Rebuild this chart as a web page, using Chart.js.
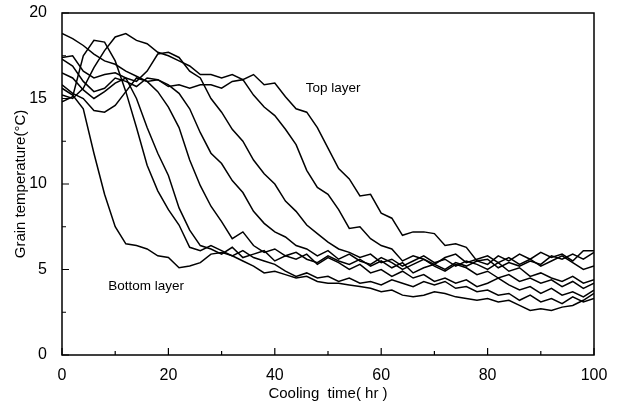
<!DOCTYPE html>
<html>
<head>
<meta charset="utf-8">
<script src="https://cdn.jsdelivr.net/npm/chart.js@4.4.1/dist/chart.umd.min.js"></script>
<style>
  html, body { margin: 0; padding: 0; background: #fff; }
  #wrap { width: 618px; height: 405px; }
</style>
</head>
<body>
<div id="wrap"><canvas id="grainChart" width="618" height="405"></canvas></div>
<script>
// cooling time (hr), every 2 hours
const hours = [0,2,4,6,8,10,12,14,16,18,20,22,24,26,28,30,32,34,36,38,40,42,44,46,48,50,
  52,54,56,58,60,62,64,66,68,70,72,74,76,78,80,82,84,86,88,90,92,94,96,98,100];

// grain temperature (C) per layer, bottom layer first
const layer1 = [15.6,15.2,14.4,11.8,9.4,7.5,6.5,6.4,6.2,5.8,5.7,5.1,5.2,5.4,5.9,6.0,5.8,5.5,5.2,4.8,4.9,4.7,4.5,4.6,4.3,4.2,
  4.2,4.1,4.0,3.9,3.7,3.8,3.5,3.4,3.5,3.7,3.6,3.4,3.3,3.2,3.3,3.1,3.2,2.9,2.6,2.7,2.6,2.8,2.9,3.2,3.6];
const layer2 = [14.8,15.1,17.5,18.4,18.3,17.2,15.4,13.3,11.1,9.6,8.5,7.6,6.3,6.1,6.4,6.1,5.8,6.1,5.7,5.5,5.3,4.9,4.6,4.8,4.5,4.6,
  4.3,4.5,4.2,4.3,4.1,4.4,4.2,4.0,4.3,4.1,4.3,3.9,4.0,3.7,3.8,3.5,3.6,3.2,3.5,3.1,3.3,3.0,3.4,3.1,3.3];
const layer3 = [16.5,16.2,15.5,15.0,15.4,15.9,16.2,15.0,13.3,11.8,10.5,8.6,7.3,6.4,6.2,5.9,6.3,5.7,5.9,6.1,5.5,5.8,5.6,5.9,5.3,5.7,
  5.4,5.0,5.3,4.8,5.0,4.6,4.9,4.5,4.7,4.3,4.5,4.2,4.4,4.0,4.2,4.5,4.1,3.8,4.0,3.6,3.9,3.5,3.7,3.4,3.8];
const layer4 = [15.8,15.3,15.0,14.3,14.2,14.6,15.4,16.2,16.0,15.4,14.5,13.3,11.4,9.9,8.7,7.8,6.8,7.2,6.4,6.0,6.2,5.8,6.0,5.6,5.4,5.8,
  5.5,5.3,5.6,5.2,5.5,5.1,5.4,4.8,5.1,5.3,5.0,5.4,5.2,5.5,5.6,5.1,5.4,5.2,5.5,5.3,5.8,5.6,5.9,5.6,6.0];
const layer5 = [17.3,16.9,16.0,15.4,15.6,16.2,16.0,15.7,16.2,16.1,15.8,15.3,14.4,13.0,11.8,11.2,10.2,9.5,8.4,7.7,7.2,6.9,6.4,6.2,5.8,6.1,
  5.6,5.9,5.5,5.3,5.7,5.4,5.0,5.3,5.6,5.2,4.9,5.3,5.1,4.7,4.9,4.5,4.7,4.3,4.5,4.2,4.4,4.0,4.3,3.9,4.2];
const layer6 = [17.4,17.5,16.6,16.2,16.4,16.5,16.2,16.0,16.6,17.6,17.7,17.4,16.6,16.2,15.0,14.2,13.2,12.5,11.4,10.6,10.0,9.0,8.4,7.6,7.1,6.6,
  6.2,6.0,5.7,5.9,5.4,5.6,5.2,5.5,5.8,5.4,5.6,5.2,5.5,5.3,5.0,5.4,4.9,5.1,4.6,4.8,4.5,4.3,4.6,4.2,4.4];
const layer7 = [18.8,18.5,18.1,17.6,17.2,17.0,16.6,16.3,16.0,16.1,15.7,15.8,15.6,15.8,15.8,15.6,16.0,16.1,15.2,14.5,14.0,13.2,12.3,10.8,9.8,9.4,
  8.5,7.4,7.5,6.8,6.4,6.2,5.5,5.8,5.6,5.3,5.7,5.9,5.4,5.6,5.8,5.4,5.7,5.3,5.6,6.0,5.7,5.9,5.5,6.1,6.1];
const layer8 = [15.2,15.0,15.6,16.8,17.8,18.6,18.8,18.4,18.2,17.7,17.5,17.2,16.9,16.4,16.4,16.2,16.4,16.1,16.4,15.8,15.9,15.1,14.4,14.2,13.3,12.1,
  10.9,10.3,9.3,9.4,8.3,8.0,7.0,7.2,7.2,7.1,6.4,6.5,6.3,5.5,5.3,5.8,5.5,5.9,5.6,5.2,5.5,5.8,5.4,5.0,5.2];

const layers = [layer1, layer2, layer3, layer4, layer5, layer6, layer7, layer8];

// axis ticks
const xMajor = [0, 20, 40, 60, 80, 100];
const xMinor = [10, 30, 50, 70, 90];
const yMajor = [0, 5, 10, 15, 20];
const yMinor = [2.5, 7.5, 12.5, 17.5];

// text notes placed in data units
const notes = [
    { text: 'Top layer', x: 45.8, y: 15.6 },
    { text: 'Bottom layer', x: 8.7, y: 4.0 }
];

const FONT = '"Liberation Sans", Arial, sans-serif';

// inward ticks, frame and notes
const framePlugin = {
    id: 'frame',
    afterDatasetsDraw(chart) {
        const { ctx, chartArea: a, scales: { x, y } } = chart;
        ctx.save();
        ctx.strokeStyle = '#000';
        ctx.lineWidth = 1.5;
        ctx.strokeRect(a.left, a.top, a.right - a.left, a.bottom - a.top);

        ctx.lineWidth = 1.2;
        ctx.beginPath();
        xMajor.forEach(v => {
            const px = x.getPixelForValue(v);
            ctx.moveTo(px, a.bottom); ctx.lineTo(px, a.bottom - 7);
        });
        xMinor.forEach(v => {
            const px = x.getPixelForValue(v);
            ctx.moveTo(px, a.bottom); ctx.lineTo(px, a.bottom - 4);
        });
        yMajor.forEach(v => {
            const py = y.getPixelForValue(v);
            ctx.moveTo(a.left, py); ctx.lineTo(a.left + 7, py);
        });
        yMinor.forEach(v => {
            const py = y.getPixelForValue(v);
            ctx.moveTo(a.left, py); ctx.lineTo(a.left + 4, py);
        });
        ctx.stroke();

        ctx.fillStyle = '#000';
        ctx.font = '13.5px ' + FONT;
        ctx.textAlign = 'left';
        ctx.textBaseline = 'middle';
        notes.forEach(n => ctx.fillText(n.text, x.getPixelForValue(n.x), y.getPixelForValue(n.y)));
        ctx.restore();
    }
};

const ctx = document.getElementById('grainChart').getContext('2d');
new Chart(ctx, {
    type: 'line',
    data: {
        labels: hours,
        datasets: layers.map((vals, i) => ({
            label: 'Layer ' + (i + 1),
            data: vals,
            borderColor: '#000',
            borderWidth: 1.5,
            pointRadius: 0,
            tension: 0,
            fill: false
        }))
    },
    options: {
        responsive: false,
        animation: false,
        devicePixelRatio: 1,
        layout: { padding: { top: 13, right: 24, left: 0, bottom: 0 } },
        plugins: {
            legend: { display: false },
            tooltip: { enabled: false }
        },
        scales: {
            x: {
                type: 'linear',
                min: 0,
                max: 100,
                afterFit(s) { s.height = 50; s.paddingLeft = 0; s.paddingRight = 0; },
                grid: { display: false },
                border: { display: false },
                ticks: {
                    stepSize: 20,
                    color: '#000',
                    padding: 3,
                    maxRotation: 0,
                    font: { family: FONT, size: 16 }
                },
                title: {
                    display: true,
                    text: 'Cooling  time( hr )',
                    color: '#000',
                    padding: { top: 2, bottom: 2 },
                    font: { family: FONT, size: 15 }
                }
            },
            y: {
                min: 0,
                max: 20,
                afterFit(s) { s.width = 62; s.paddingTop = 0; s.paddingBottom = 0; },
                grid: { display: false },
                border: { display: false },
                ticks: {
                    stepSize: 5,
                    color: '#000',
                    padding: 7,
                    font: { family: FONT, size: 16 }
                },
                title: {
                    display: true,
                    text: 'Grain temperature(°C)',
                    color: '#000',
                    padding: { top: 12, bottom: 0 },
                    font: { family: FONT, size: 15 }
                }
            }
        }
    },
    plugins: [framePlugin]
});
</script>
</body>
</html>
